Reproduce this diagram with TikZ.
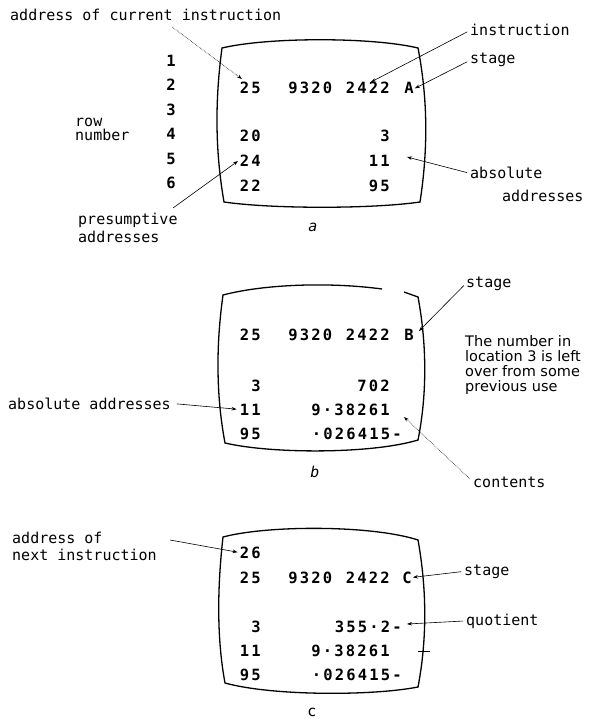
\documentclass[tikz,border=0pt]{standalone}
\usepackage{fontspec}
\setmainfont{DejaVu Sans Mono}
\newfontfamily\labfont{DejaVu Sans Mono}
\newfontfamily\scrfont{DejaVu Sans Mono}
\newfontfamily\notefont{DejaVu Sans}
\usetikzlibrary{arrows.meta}
\newlength\gridw
\setlength\gridw{11.5pt}
\def\gridend{GRIDEND}
\newcommand\grid[1]{\gridloop#1\gridend}
\def\gridloop#1{\ifx#1\gridend\else\makebox[\gridw][c]{#1}\expandafter\gridloop\fi}
\tikzset{
  lab/.style={font=\labfont\fontsize{15}{15}\selectfont, inner sep=0pt, anchor=base west},
  scr/.style={font=\scrfont\bfseries\fontsize{15.5}{15.5}\selectfont, inner sep=0pt},
  scrE/.style={scr, anchor=base east},
  scrW/.style={scr, anchor=base west},
  note/.style={font=\notefont\fontsize{14.5}{15}\selectfont, inner sep=0pt, anchor=base west},
  arr/.style={line width=0.6pt, -{Stealth[length=5pt,width=3.5pt]}},
  faint/.style={line width=0.6pt, densely dotted, -{Stealth[length=5pt,width=3.5pt]}},
  screen/.style={line width=1.3pt, line join=miter},
}
\begin{document}
\begin{tikzpicture}[x=1pt,y=-1pt]
\useasboundingbox (0,0) rectangle (606,719);

% ---------------- (a) ----------------
\draw[screen] (222,48) .. controls (268,37) and (372,37) .. (418,48)
  .. controls (428,100) and (428,150) .. (420,202)
  .. controls (372,209) and (272,209) .. (224,202)
  .. controls (215,150) and (215,100) .. (222,48) -- cycle;

\node[lab] (lblTitle) at (10,21) {address of current instruction};
\foreach \n/\y in {1/67,2/91,3/116,4/140,5/165,6/189}
  \node[scr, anchor=base] (row\n) at (171,\y) {\n};
\node[lab] (lblRow1) at (75,127) {row};
\node[lab] (lblRow2) at (75,141) {number};
\node[lab] (lblPres1) at (78,224) {presumptive};
\node[lab] (lblPres2) at (78,242) {addresses};
\node[lab] (lblInstr) at (470,36) {instruction};
\node[lab] (lblStageA) at (470,64) {stage};
\node[lab] (lblAbsA1) at (470,179) {absolute};
\node[lab] (lblAbsA2) at (502,201) {addresses};
\node[lab, anchor=base] (capA) at (313,232) {\itshape a};

\node[scrE] (a25) at (262,94) {\grid{25}};
\node[scrE] (aIns) at (391,94) {\grid{9320~2422}};
\node[scrW] (aA) at (403,94) {\grid{A}};
\node[scrE] (a20) at (262,142) {\grid{20}};
\node[scrE] (a3) at (391,142) {\grid{3}};
\node[scrE] (a24) at (262,167) {\grid{24}};
\node[scrE] (a11) at (391,167) {\grid{11}};
\node[scrE] (a22) at (262,192) {\grid{22}};
\node[scrE] (a95) at (391,192) {\grid{95}};

\coordinate (aTitleS) at (172,27);
\coordinate (aTitleT) at (242,79);
\coordinate (aInsT) at (371,82);
\coordinate (aAbsT) at (407,157);
\coordinate (aPresS) at (173,208);
\coordinate (aPresT) at (238,161);
\draw[faint] (aTitleS) -- (aTitleT);
\draw[arr, shorten <=3pt] (lblInstr.west) -- (aInsT);
\draw[arr, shorten <=3pt] (lblStageA.west) -- (aA.east);
\draw[arr, shorten <=3pt] (lblAbsA1.west) -- (aAbsT);
\draw[arr] (aPresS) -- (aPresT);

% ---------------- (b) ----------------
\draw[screen] (382,289) .. controls (330,282) and (265,284) .. (223,295)
  .. controls (216,345) and (216,395) .. (225,443)
  .. controls (272,454) and (372,454) .. (418,440)
  .. controls (427,395) and (427,345) .. (418,297) -- (404,292);

\node[scrE] (b25) at (262,340) {\grid{25}};
\node[scrE] (bIns) at (391,340) {\grid{9320~2422}};
\node[scrW] (bB) at (403,340) {\grid{B}};
\node[scrE] (b3) at (262,391) {\grid{3}};
\node[scrE] (b702) at (391,391) {\grid{702}};
\node[scrE] (b11) at (262,415) {\grid{11}};
\node[scrE] (b9) at (391,415) {\grid{9·38261}};
\node[scrE] (b95) at (262,439) {\grid{95}};
\node[scrW] (b026) at (310.5,439) {\grid{·026415-}};

\node[lab] (lblStageB) at (466,287) {stage};
\node[note] (note1) at (465,346) {The number in};
\node[note] (note2) at (465,361) {location 3 is left};
\node[note] (note3) at (465,376) {over from some};
\node[note] (note4) at (465,391) {previous use};
\node[lab] (lblAbsB) at (8,409) {absolute addresses};
\node[lab] (lblCont) at (473,487) {contents};
\node[lab, anchor=base] (capB) at (315,477) {\itshape b};

\coordinate (bStT) at (419,331);
\coordinate (bContS) at (470,479);
\coordinate (bContT) at (404,417);
\draw[arr, shorten <=3pt] (lblStageB.west) -- (bStT);
\draw[arr, shorten <=6pt, shorten >=2pt] (lblAbsB.east) -- (b11.west);
\draw[faint] (bContS) -- (bContT);

% ---------------- (c) ----------------
\draw[screen] (223,537) .. controls (268,525) and (372,525) .. (418,540)
  .. controls (427,590) and (427,640) .. (418,687)
  .. controls (372,696) and (272,696) .. (225,683)
  .. controls (217,640) and (217,590) .. (223,537) -- cycle;

\node[scrE] (c26) at (262,558) {\grid{26}};
\node[scrE] (c25) at (262,583) {\grid{25}};
\node[scrE] (cIns) at (391,583) {\grid{9320~2422}};
\node[scrW] (cC) at (401,583) {\grid{C}};
\node[scrE] (c3) at (262,632) {\grid{3}};
\node[scrW] (c355) at (333.5,632) {\grid{355·2-}};
\node[scrE] (c11) at (262,656) {\grid{11}};
\node[scrE] (c9) at (391,656) {\grid{9·38261}};
\node[scrE] (c95) at (262,680) {\grid{95}};
\node[scrW] (c026) at (310.5,680) {\grid{·026415-}};

\node[lab] (lblNext1) at (12,543) {address of};
\node[lab] (lblNext2) at (12,560) {next instruction};
\node[lab] (lblStageC) at (464,575) {stage};
\node[lab] (lblQuot) at (466,625) {quotient};
\node[lab, anchor=base] (capC) at (312,716) {c};

\coordinate (cNextS) at (170,540);
\coordinate (cQuotT) at (407,624);
\coordinate (cTickA) at (418,651);
\coordinate (cTickB) at (430,651);
\draw[arr, shorten >=1pt] (cNextS) -- (c26.west);
\draw[arr, shorten <=3pt] (lblStageC.west) -- (cC.east);
\draw[arr, shorten <=3pt] (lblQuot.west) -- (cQuotT);
\draw[line width=0.6pt] (cTickA) -- (cTickB);
\end{tikzpicture}
\end{document}
